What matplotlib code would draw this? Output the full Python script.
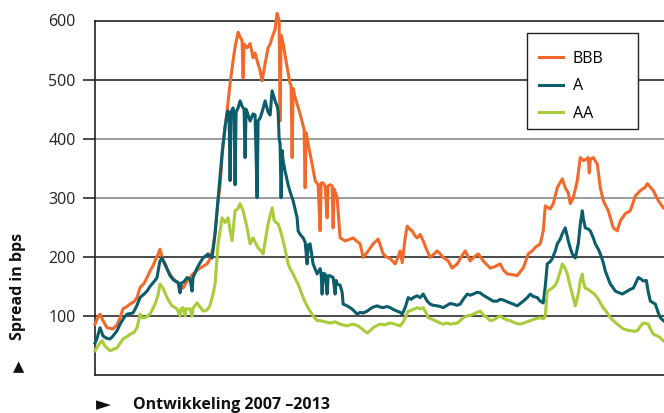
import matplotlib
matplotlib.use('Agg')
import matplotlib.pyplot as plt
from matplotlib.patches import Rectangle
import numpy as np

# time index (weeks-ish, 2007 -> 2013) and spread in bps
bbb_t = [0, 3, 5, 8, 12, 18, 22, 25, 28, 32, 35, 39, 42, 45, 49, 52, 55, 58, 60, 63, 65, 68,
         71, 73, 76, 78, 82, 85, 88, 90, 92, 95, 98, 102, 105, 109, 112, 115, 118, 120, 123, 125,
         128, 132, 135, 138, 140, 143, 145, 147, 148, 149, 152, 155, 158, 160, 162, 165, 167, 170,
         173, 175, 177, 180, 182, 184, 185, 186, 188, 192, 195, 196, 197, 198, 200, 205, 209, 210,
         211, 213, 217, 220, 223, 225, 226, 228, 230, 232, 233, 235, 237, 238, 239, 242, 245, 250,
         255, 258, 262, 265, 268, 273, 278, 283, 288, 291, 295, 300, 303, 305, 307, 310, 312, 315,
         317, 320, 322, 325, 328, 332, 335, 339, 342, 345, 348, 353, 357, 362, 366, 370, 375, 379,
         383, 388, 392, 395, 399, 405, 408, 412, 417, 422, 425, 428, 433, 437, 440, 445, 448, 450,
         453, 455, 458, 462, 465, 467, 470, 473, 475, 478, 482, 485, 488, 491, 493, 494, 495, 498,
         502, 505, 508, 513, 518, 522, 525, 530, 535, 540, 545, 550, 552, 555, 558, 563, 568]
bbb_v = [86, 98, 103, 92, 80, 78, 85, 97, 112, 116, 120, 124, 131, 148, 155, 165, 176, 185, 193,
         204, 213, 193, 183, 176, 168, 163, 157, 154, 147, 153, 159, 165, 171, 177, 181, 185, 188,
         197, 215, 239, 295, 320, 391, 447, 493, 532, 555, 580, 572, 566, 503, 560, 554, 561, 537,
         545, 532, 515, 498, 527, 554, 560, 571, 585, 612, 600, 430, 575, 561, 521, 493, 490, 368,
         485, 470, 442, 415, 317, 410, 391, 357, 329, 322, 244, 325, 325, 320, 266, 320, 322, 320,
         249, 315, 300, 232, 227, 230, 232, 226, 222, 199, 210, 222, 230, 205, 200, 197, 188, 200,
         210, 190, 232, 252, 246, 244, 235, 232, 238, 227, 210, 199, 205, 210, 205, 199, 193, 181,
         188, 200, 210, 193, 200, 205, 193, 186, 181, 183, 188, 178, 171, 170, 168, 175, 181, 205,
         210, 216, 222, 244, 286, 283, 281, 290, 317, 326, 332, 317, 308, 290, 300, 329, 368, 363,
         365, 368, 342, 365, 368, 357, 317, 295, 278, 249, 244, 261, 273, 278, 303, 312, 318, 324,
         318, 312, 295, 283]

a_t = [0, 2, 5, 8, 12, 15, 18, 22, 25, 29, 32, 38, 42, 45, 49, 52, 55, 57, 60, 62, 64, 65, 67,
       70, 73, 75, 78, 80, 83, 85, 86, 89, 92, 95, 97, 98, 102, 105, 108, 113, 117, 120, 123, 127,
       130, 132, 133, 134, 135, 136, 138, 139, 140, 141, 143, 145, 147, 149, 150, 151, 153, 155,
       158, 160, 162, 163, 165, 167, 170, 173, 175, 177, 180, 182, 183, 184, 185, 186, 187, 188,
       190, 193, 195, 198, 202, 203, 205, 208, 210, 212, 213, 215, 218, 222, 225, 226, 227, 228,
       230, 232, 233, 235, 238, 240, 241, 242, 245, 247, 248, 252, 255, 258, 262, 265, 268, 272,
       275, 278, 282, 285, 288, 292, 295, 298, 302, 305, 307, 310, 313, 316, 318, 322, 325, 328,
       332, 335, 338, 342, 345, 348, 352, 355, 358, 362, 365, 368, 372, 375, 378, 382, 385, 388,
       392, 395, 398, 402, 405, 408, 412, 415, 418, 422, 425, 428, 432, 435, 438, 442, 445, 448,
       450, 452, 455, 457, 460, 462, 465, 467, 470, 473, 475, 477, 480, 483, 485, 487, 488, 490,
       493, 495, 498, 500, 503, 505, 508, 510, 513, 515, 518, 520, 524, 527, 530, 532, 535, 538,
       541, 543, 546, 548, 551, 553, 555, 558, 560, 563, 565, 568]
a_v = [54, 62, 80, 66, 62, 61, 66, 75, 86, 97, 103, 105, 118, 131, 137, 142, 150, 154, 160, 165,
       185, 193, 198, 188, 176, 168, 162, 159, 157, 139, 155, 158, 165, 162, 142, 165, 181, 190,
       198, 205, 198, 240, 298, 375, 420, 442, 447, 440, 329, 445, 452, 440, 322, 445, 452, 464,
       455, 450, 368, 450, 440, 430, 442, 440, 300, 430, 435, 445, 464, 445, 440, 481, 464, 455,
       447, 400, 391, 300, 380, 363, 345, 322, 310, 295, 266, 244, 238, 232, 225, 188, 220, 222,
       188, 171, 180, 172, 137, 172, 171, 137, 168, 168, 165, 137, 160, 154, 152, 140, 120, 117,
       114, 110, 103, 106, 105, 108, 112, 115, 117, 115, 114, 116, 114, 111, 108, 106, 103, 114,
       131, 128, 131, 134, 131, 137, 125, 120, 118, 117, 116, 114, 118, 121, 120, 118, 120, 128,
       137, 135, 137, 140, 139, 135, 131, 128, 125, 125, 128, 127, 124, 122, 120, 117, 121, 125,
       131, 137, 133, 131, 125, 122, 150, 188, 192, 197, 210, 222, 230, 239, 249, 227, 215, 205,
       198, 222, 255, 278, 265, 249, 247, 244, 232, 222, 213, 205, 190, 176, 163, 154, 147, 142,
       139, 137, 140, 142, 145, 147, 158, 165, 162, 159, 160, 140, 125, 122, 120, 105, 97, 92]

aa_t = [0, 3, 7, 10, 15, 22, 28, 32, 35, 39, 42, 45, 47, 50, 55, 60, 63, 65, 68, 72, 75, 77, 82,
        85, 86, 88, 90, 91, 95, 97, 98, 102, 105, 108, 112, 115, 118, 120, 122, 123, 127, 130,
        133, 135, 137, 140, 143, 145, 148, 152, 155, 158, 160, 163, 166, 168, 170, 173, 175, 177,
        179, 181, 183, 186, 188, 191, 193, 195, 198, 201, 203, 205, 208, 211, 215, 218, 222, 225,
        230, 235, 240, 245, 252, 257, 262, 267, 272, 275, 278, 282, 285, 290, 295, 300, 305, 308,
        310, 313, 317, 322, 325, 328, 331, 333, 336, 340, 345, 348, 352, 355, 358, 362, 365, 368,
        372, 375, 378, 382, 385, 388, 392, 395, 398, 402, 405, 408, 412, 415, 420, 425, 430, 435,
        440, 445, 448, 450, 452, 455, 457, 460, 462, 465, 467, 470, 472, 475, 477, 480, 483, 485,
        487, 488, 490, 493, 495, 499, 502, 505, 508, 512, 515, 518, 522, 525, 528, 532, 535, 539,
        542, 545, 548, 551, 553, 555, 558, 562, 565, 568]
aa_v = [41, 50, 58, 49, 41, 46, 61, 65, 69, 72, 80, 103, 97, 97, 103, 120, 135, 154, 147, 131,
        122, 117, 112, 100, 112, 114, 100, 112, 112, 100, 113, 122, 115, 108, 110, 118, 137, 154,
        200, 222, 266, 258, 266, 245, 227, 278, 282, 290, 278, 249, 222, 232, 225, 215, 210, 205,
        225, 256, 270, 283, 262, 258, 256, 240, 227, 205, 188, 180, 171, 160, 154, 145, 131, 120,
        108, 100, 92, 92, 90, 88, 90, 86, 83, 86, 84, 78, 71, 75, 80, 84, 86, 85, 88, 86, 83, 90,
        97, 108, 110, 114, 112, 114, 105, 97, 95, 92, 88, 86, 88, 86, 87, 88, 92, 97, 100, 101,
        103, 106, 108, 102, 97, 92, 93, 97, 100, 96, 93, 92, 88, 86, 89, 92, 95, 97, 95, 100, 142,
        145, 147, 152, 159, 175, 188, 180, 171, 150, 137, 117, 137, 160, 171, 158, 147, 145, 142,
        137, 131, 122, 114, 105, 97, 92, 86, 82, 78, 76, 75, 74, 75, 82, 88, 87, 86, 78, 69, 66,
        63, 58]

series = [('BBB', bbb_t, bbb_v, '#f26a2b'),
          ('A', a_t, a_v, '#0b5d6b'),
          ('AA', aa_t, aa_v, '#a8cc3c')]

yticks = [100, 200, 300, 400, 500, 600]
grid_colors = ['#2b2b2b', '#2b2b2b', '#8a8a8a', '#8a8a8a', '#2b2b2b']

plt.rcParams['font.family'] = ['Open Sans', 'DejaVu Sans']

W, H = 664, 413
fig = plt.figure(figsize=(W / 100, H / 100), dpi=100)
ax = fig.add_axes([95 / W, 1 - 375 / H, 1 - 95 / W + 0.002, (375 - 20.5) / H])

for yv, c in zip(yticks[:-1], grid_colors):
    ax.axhline(yv, color=c, lw=1.2, zorder=1)

for name, t, v, c in series:
    ax.plot(t, v, color=c, lw=2.2, label=name, zorder=3, solid_joinstyle='round',
            clip_on=False)

ax.set_xlim(0, 570)
ax.set_ylim(0, 600)
ax.set_xticks([])
ax.set_yticks(yticks)
ax.tick_params(axis='y', length=9, width=1.2, color='#2b2b2b', pad=5, labelsize=11.5,
               labelcolor='#222222')
ax.get_yticklines()[-2].set_visible(False)
for side in ['left', 'bottom', 'top']:
    ax.spines[side].set_color('#222222')
    ax.spines[side].set_linewidth(1.2)
ax.spines['right'].set_visible(False)

# legend box drawn by hand so it keeps the wide right margin of the original
box = Rectangle((527 / W, 1 - 129 / H), 111 / W, 96 / H, transform=fig.transFigure,
                facecolor='white', edgecolor='#222222', lw=1.0, zorder=10)
fig.patches.append(box)
leg = fig.legend(*ax.get_legend_handles_labels(), loc='upper left',
                 bbox_to_anchor=(539 / W, 1 - 51 / H), borderaxespad=0, borderpad=0,
                 frameon=False, fontsize=11.5, handlelength=1.5, handletextpad=0.6,
                 labelspacing=0.72)
leg.set_zorder(11)

fig.text(18.5 / W, 1 - 340 / H, 'Spread in bps', rotation=90, ha='center', va='bottom',
         fontsize=11.5, fontweight='bold', color='#111111')
fig.text(18.5 / W, 1 - 374 / H, '\u25b2', ha='center', va='bottom', fontsize=10.5,
         color='#111111', family='DejaVu Sans')
fig.text(96 / W, 1 - 405 / H, '\u25ba', ha='left', va='center', fontsize=14,
         color='#111111', family='DejaVu Sans')
fig.text(133 / W, 1 - 405 / H, 'Ontwikkeling 2007 \u20132013', ha='left', va='center',
         fontsize=11.5, fontweight='bold', color='#111111')

fig.savefig('out.png', dpi=100)
